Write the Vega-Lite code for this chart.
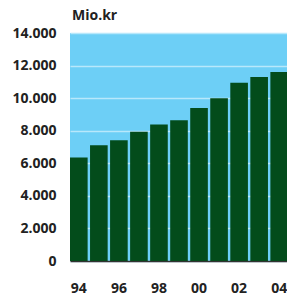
{
  "$schema": "https://vega.github.io/schema/vega-lite/v6.json",
  "autosize": "none",
  "width": 218,
  "height": 228,
  "padding": {"left": 70, "top": 33, "right": 0, "bottom": 36},
  "background": "white",
  "title": {"text": "Mio.kr", "anchor": "start", "frame": "group", "offset": 3, "fontSize": 14, "font": "Open Sans", "fontWeight": "bold", "color": "#222222", "dx": 2},
  "config": {"view": {"fill": "#6dcff6", "stroke": null}},
  "data": {"values": [
    {"year": "94", "value": 6360},
    {"year": "95", "value": 7110},
    {"year": "96", "value": 7420},
    {"year": "97", "value": 7930},
    {"year": "98", "value": 8380},
    {"year": "99", "value": 8640},
    {"year": "00", "value": 9400},
    {"year": "01", "value": 10000},
    {"year": "02", "value": 10950},
    {"year": "03", "value": 11300},
    {"year": "04", "value": 11600}
  ]},
  "mark": {"type": "bar", "color": "#034c1b"},
  "encoding": {
    "x": {"field": "year", "type": "ordinal", "sort": null,
      "scale": {"paddingInner": 0.12, "paddingOuter": 0},
      "axis": {"title": null, "values": ["94", "96", "98", "00", "02", "04"], "labelAngle": 0, "ticks": false, "labelPadding": 20, "labelFont": "Open Sans", "labelFontSize": 14, "labelFontWeight": "bold", "labelColor": "#222222", "domainColor": "#333333", "domainWidth": 1.5}},
    "y": {"field": "value", "type": "quantitative",
      "scale": {"domain": [0, 14000], "nice": false},
      "axis": {"title": null, "values": [0, 2000, 4000, 6000, 8000, 10000, 12000, 14000], "labelExpr": "replace(format(datum.value, ','), ',', '.')", "ticks": false, "domain": false, "labelPadding": 14, "labelFont": "Open Sans", "labelFontSize": 14, "labelFontWeight": "bold", "labelColor": "#222222", "gridColor": "#b8e8fb", "gridWidth": 1.5, "gridOpacity": 1}}
  }
}
